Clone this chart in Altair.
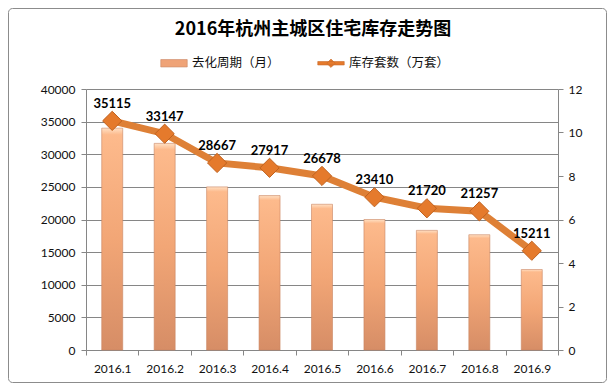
import altair as alt
import pandas as pd

months = ["2016.1", "2016.2", "2016.3", "2016.4", "2016.5", "2016.6", "2016.7", "2016.8", "2016.9"]
inventory = [35115, 33147, 28667, 27917, 26678, 23410, 21720, 21257, 15211]
cycle = [10.2, 9.5, 7.5, 7.1, 6.7, 6.0, 5.5, 5.3, 3.7]
bar_name = "去化周期（月）"
line_name = "库存套数（万套）"
title_text = "2016年杭州主城区住宅库存走势图"

df = pd.DataFrame({"month": months, "inventory": inventory, "cycle": cycle, "series": line_name})

LINE_C = "#DE8036"
DIAM_C = "#E57A2C"
BAR_C = "#EFA377"
AX = "#868686"
FONT = "Lato"

x_enc = alt.X("month:N", sort=months, title=None,
              scale=alt.Scale(paddingInner=0, paddingOuter=0),
              axis=alt.Axis(labelAngle=0, tickBand="extent", tickSize=5, tickColor=AX,
                            domainColor=AX, labelFont=FONT, labelFontSize=12,
                            labelColor="#111", labelPadding=8, grid=False))

base = alt.Chart(df)

bar_grad = alt.LinearGradient(
    gradient="linear", x1=0, x2=0, y1=0, y2=1,
    stops=[alt.GradientStop(color="#FFE0C4", offset=0),
           alt.GradientStop(color="#FDBA8C", offset=0.03),
           alt.GradientStop(color="#F2A676", offset=0.5),
           alt.GradientStop(color="#D68D66", offset=1)])

bars = base.mark_bar(size=21, color=bar_grad, stroke="#C98462", strokeWidth=0.6).encode(
    x=x_enc,
    y=alt.Y("cycle:Q", title=None,
            scale=alt.Scale(domain=[0, 12], nice=False),
            axis=alt.Axis(orient="right", values=list(range(0, 13, 2)), grid=False,
                          tickSize=5, tickColor=AX, domainColor=AX, labelFont=FONT,
                          labelFontSize=12, labelColor="#111", labelPadding=5)),
)

y_left = alt.Y("inventory:Q", title=None,
               scale=alt.Scale(domain=[0, 40000], nice=False),
               axis=alt.Axis(orient="left", values=list(range(0, 40001, 5000)), format="d",
                             grid=True, gridColor=AX, gridWidth=1, tickSize=5, tickColor=AX,
                             domainColor=AX, labelFont=FONT, labelFontSize=12,
                             labelColor="#111", labelPadding=6))

is_bar = "datum.value == '" + bar_name + "'"
legend = alt.Legend(
    title=None, orient="none", legendX=74, legendY=-40, direction="horizontal",
    labelFont="Noto Sans CJK SC", labelFontSize=12.5, labelColor="#111",
    symbolSize=700, columnPadding=36, labelOffset=4, symbolOpacity=1,
    symbolType=alt.ExprRef(expr=is_bar + " ? 'M-1,-0.28H1V0.28H-1Z' : 'M-1,-0.13H1V0.13H-1Z M-0.32,0L0,-0.32L0.32,0L0,0.32Z'"),
    symbolStrokeColor=alt.ExprRef(expr=is_bar + " ? '#C98462' : '#C8692A'"),
    symbolStrokeWidth=0.6,
)

line = base.mark_line(strokeWidth=7, color=LINE_C).encode(x=x_enc, y=y_left)

points = base.mark_point(shape="diamond", size=370, filled=True,
                         stroke="#C0621F", strokeWidth=1, opacity=1).encode(
    x=x_enc, y=y_left,
    color=alt.Color("series:N", scale=alt.Scale(domain=[bar_name, line_name],
                                                range=[BAR_C, DIAM_C]), legend=legend),
)

labels = base.mark_text(dy=-17, font=FONT, fontSize=13, fontWeight="bold", color="#000").encode(
    x=x_enc, y=y_left, text=alt.Text("inventory:Q", format="d"))

left = alt.layer(line, points, labels)

border = alt.Chart(pd.DataFrame({"a": [0]})).mark_rect(
    fill=None, stroke="#8C8C8C", strokeWidth=1, cornerRadius=4).encode(
    x=alt.value(-77.5), x2=alt.value(520.5), y=alt.value(-80.5), y2=alt.value(293.5))

chart = alt.layer(bars, left, border).resolve_scale(y="independent").properties(
    width=472, height=261,
    padding={"left": 78, "top": 81, "right": 49, "bottom": 33},
    autosize=alt.AutoSizeParams(type="none"),
    background="white",
    title=alt.TitleParams(title_text, font="Noto Sans CJK SC", fontSize=18, fontWeight="bold",
                          color="#000", anchor="middle", offset=-31, dx=-9),
).configure_view(stroke=None)

chart.save("out.html", embed_options={"renderer": "svg", "actions": False})
